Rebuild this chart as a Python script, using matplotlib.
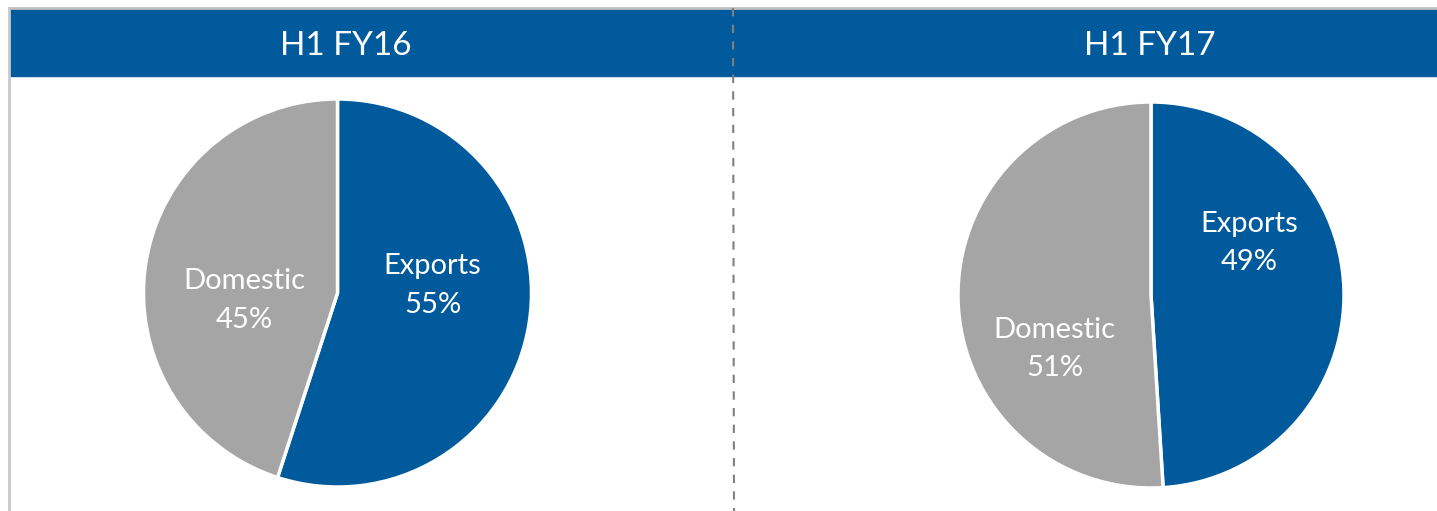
import matplotlib.pyplot as plt
from matplotlib.patches import Rectangle
from matplotlib.lines import Line2D

plt.rcParams['font.family'] = ['Lato', 'DejaVu Sans']

# data
periods = ['H1 FY16', 'H1 FY17']
segments = ['Exports', 'Domestic']
exports = [55, 49]
domestic = [45, 51]
# label positions inside each pie (x, y in pie radius units)
label_pos = [
    [(0.49, 0.04), (-0.48, -0.04)],
    [(0.51, 0.27), (-0.50, -0.28)],
]

blue = '#005a9c'
grey = '#a5a5a5'

W, H = 1437, 511
fig = plt.figure(figsize=(W / 100, H / 100), dpi=100)

# header band and frame lines (figure pixel coords -> fraction)
def fx(x):
    return x / W

def fy(y):
    return 1 - y / H

fig.patches.append(Rectangle((fx(10), fy(76)), fx(1437) - fx(10), fy(9) - fy(76),
                             transform=fig.transFigure, color=blue, zorder=0))
fig.lines.append(Line2D([fx(9), fx(1437)], [fy(8), fy(8)], transform=fig.transFigure,
                        color='#c0c0c0', lw=2))
fig.lines.append(Line2D([fx(9), fx(9)], [fy(8), fy(511)], transform=fig.transFigure,
                        color='#c8c8c8', lw=2))
fig.lines.append(Line2D([fx(733), fx(734)], [fy(8), fy(511)], transform=fig.transFigure,
                        color='#808080', lw=1.5, ls=(0, (4, 4))))

title_x = [346, 1150]
centers = [(337.5, 293), (1151, 295)]
radii = [194, 193]

for i, name in enumerate(periods):
    fig.text(fx(title_x[i]), fy(46), name, color='white', fontsize=24,
             ha='center', va='center')

    cx, cy = centers[i]
    r = radii[i]
    ax = fig.add_axes([fx(cx - r), fy(cy + r), 2 * r / W, 2 * r / H])
    vals = [exports[i], domestic[i]]
    ax.pie(vals, colors=[blue, grey], startangle=90, counterclock=False,
           wedgeprops=dict(edgecolor='white', linewidth=2.5))
    ax.set_xlim(-1, 1)
    ax.set_ylim(-1, 1)
    ax.set_aspect('auto')
    ax.axis('off')
    for j, seg in enumerate(segments):
        lx, ly = label_pos[i][j]
        ax.text(lx, ly, f'{seg}\n{vals[j]}%', color='white', fontsize=21,
                ha='center', va='center', linespacing=1.6)

fig.savefig('out.png', dpi=100)
